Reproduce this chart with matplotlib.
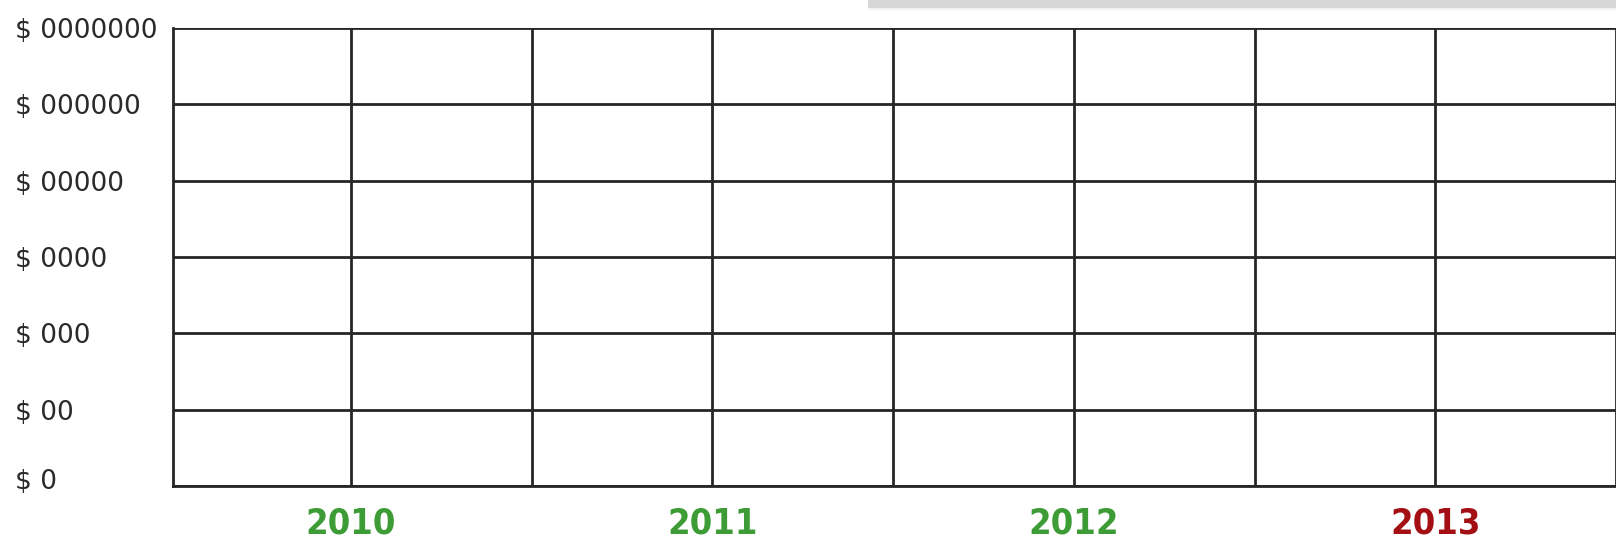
import matplotlib
matplotlib.use("Agg")
import matplotlib.pyplot as plt
import matplotlib.transforms as mtransforms
import numpy as np

# tick labels
y_labels = ["$ 0", "$ 00", "$ 000", "$ 0000", "$ 00000", "$ 000000", "$ 0000000"]
years = ["2010", "2011", "2012", "2013"]
year_colors = ["#3d9c35", "#3d9c35", "#3d9c35", "#a30f12"]
year_slots = [1, 3, 5, 7]

W, H = 1616, 541
fig = plt.figure(figsize=(W / 100, H / 100), dpi=100)

# plot area in pixels (first column is a touch narrower than the others)
left, top, bottom = 173, 28, 486
col_w = 181.8
x0 = left - (352 - col_w)
ax = fig.add_axes([left / W, 1 - bottom / H, 1 - left / W, (bottom - top) / H])
ax.set_xlim(x0 / col_w, (W - left + x0) / col_w)
ax.set_ylim(0, len(y_labels) - 1)

# grid lines
ax.set_xticks(range(1, 9))
ax.set_yticks(range(len(y_labels)))
ax.grid(True, color="#262626", linewidth=2.0)
for s in ["top", "right"]:
    ax.spines[s].set_visible(False)
for s in ["left", "bottom"]:
    ax.spines[s].set_color("#262626")
    ax.spines[s].set_linewidth(2.0)

# y labels, left aligned at the figure edge
ax.set_yticklabels(y_labels, fontsize=19, color="#2a2a2a", family="DejaVu Sans")
ax.tick_params(axis="y", length=0, pad=(left - 15) * 0.72)
for t in ax.get_yticklabels():
    t.set_horizontalalignment("left")
# the bottom label sits a bit above its line
lab0 = ax.get_yticklabels()[0]
lab0.set_transform(lab0.get_transform() + mtransforms.ScaledTranslation(0, 7 / 100, fig.dpi_scale_trans))

# year labels under every second column line
xlabels = [""] * 8
for yr, slot in zip(years, year_slots):
    xlabels[slot - 1] = yr
ax.set_xticklabels(xlabels, fontsize=26, fontweight="heavy", fontstretch="condensed",
                   family="DejaVu Sans")
ax.tick_params(axis="x", length=0, pad=15)
for t in ax.get_xticklabels():
    if t.get_text() in years:
        t.set_color(year_colors[years.index(t.get_text())])

# grey shadow strip in the top right corner
sh = fig.add_axes([868 / W, 1 - 12 / H, 1 - 868 / W, 12 / H])
grad = np.linspace(0.80, 1.0, 12)[:, None] * np.ones((1, 50))
grad[:8] = 0.84
sh.imshow(grad, cmap="gray", vmin=0, vmax=1, aspect="auto", interpolation="bilinear")
sh.axis("off")

fig.savefig("out.png", dpi=100)
